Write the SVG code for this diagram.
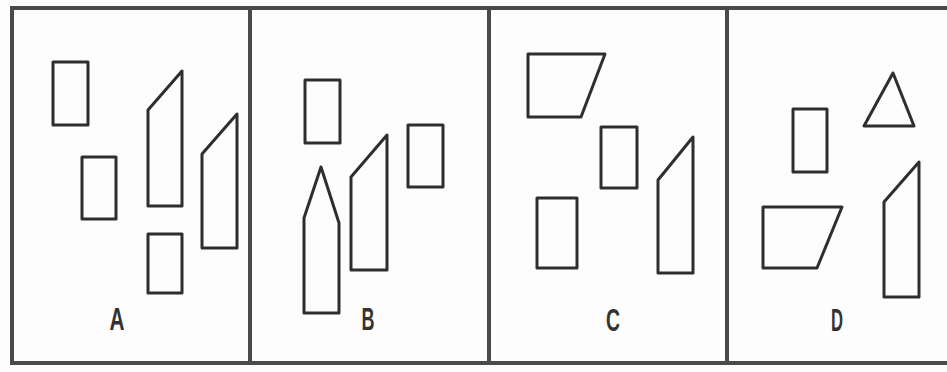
<svg xmlns="http://www.w3.org/2000/svg" width="947" height="372" viewBox="0 0 947 372">
<style>
.frame{stroke:#4a4a4a;stroke-width:4;fill:none}
.shape{stroke:#2e2e2e;stroke-width:3;fill:none;stroke-linejoin:round}
.lbl{font-family:"Liberation Sans",Arial,sans-serif;font-size:32px;font-weight:bold;fill:#333;text-anchor:middle}
</style>
<rect width="947" height="372" fill="#fdfdfd"/>
<g id="frame">
<line class="frame" x1="10" y1="8" x2="947" y2="8"/>
<line class="frame" x1="10" y1="363" x2="947" y2="363"/>
<line class="frame" x1="12" y1="8" x2="12" y2="364"/>
<line class="frame" x1="250" y1="8" x2="250" y2="364"/>
<line class="frame" x1="489" y1="8" x2="489" y2="364"/>
<line class="frame" x1="727" y1="8" x2="727" y2="364"/>
</g>
<g id="panelA">
<rect class="shape" x="53" y="62" width="35" height="63"/>
<rect class="shape" x="82" y="157" width="34" height="62"/>
<polygon class="shape" points="148,110 182,71 182,206 148,206"/>
<polygon class="shape" points="202,154 237,114 237,248 202,248"/>
<rect class="shape" x="148" y="234" width="34" height="59"/>
<text class="lbl" x="117" y="330" textLength="15" lengthAdjust="spacingAndGlyphs">A</text>
</g>
<g id="panelB">
<rect class="shape" x="305" y="80" width="35" height="63"/>
<polygon class="shape" points="321,167 304,218 304,313 339,313 339,223"/>
<polygon class="shape" points="351,177 387,135 387,270 351,270"/>
<rect class="shape" x="408" y="125" width="35" height="62"/>
<text class="lbl" x="368" y="330" textLength="13" lengthAdjust="spacingAndGlyphs">B</text>
</g>
<g id="panelC">
<polygon class="shape" points="528,54 605,54 581,117 528,117"/>
<rect class="shape" x="601" y="127" width="36" height="61"/>
<rect class="shape" x="537" y="198" width="40" height="70"/>
<polygon class="shape" points="658,180 693,137 693,273 658,273"/>
<text class="lbl" x="613" y="331" textLength="14" lengthAdjust="spacingAndGlyphs">C</text>
</g>
<g id="panelD">
<rect class="shape" x="793" y="109" width="34" height="63"/>
<polygon class="shape" points="893,73 864,126 914,126"/>
<polygon class="shape" points="763,207 842,207 817,268 763,268"/>
<polygon class="shape" points="884,202 919,162 919,297 884,297"/>
<text class="lbl" x="837" y="331" textLength="12" lengthAdjust="spacingAndGlyphs">D</text>
</g>
<g id="connectors"/>
</svg>
